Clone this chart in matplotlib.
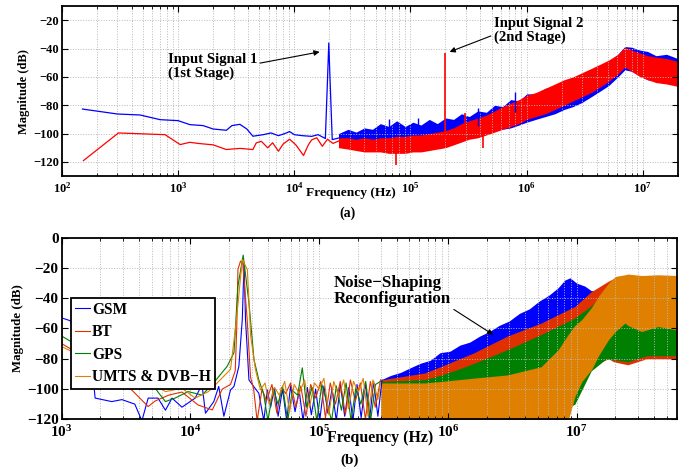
import matplotlib
matplotlib.use("Agg")
import matplotlib.pyplot as plt
from matplotlib.ticker import LogLocator, LogFormatterMathtext, MultipleLocator, NullFormatter

# ---------------- data ----------------
# (a) first/second stage spectra, low-frequency part as lines
a_blue_f = [150, 300, 470, 700, 1000, 1260, 1640, 2000, 2600, 2900, 3400, 3900, 4400,
            5400, 6300, 7300, 8300, 9100, 10000, 11700, 14100, 16000, 18500, 19300,
            19800, 20300, 21200, 24500]
a_blue_db = [-82.7, -86.2, -86.9, -90.2, -90.9, -93.7, -94.4, -96.8, -97.7, -94.4, -93.5,
             -96.8, -101.9, -100.8, -99.6, -101.5, -100, -98.6, -100.8, -101.5, -102,
             -100.8, -103.5, -62, -36, -62, -104.3, -103]
a_red_f = [153, 306, 771, 1040, 1260, 1490, 2000, 2600, 3400, 4400, 4700, 5200, 5900,
           6500, 7300, 8000, 9100, 10300, 12000, 13200, 14100, 15600, 17400, 19300,
           21500, 24500]
a_red_db = [-119.1, -99.6, -100.8, -107.8, -106.2, -107, -108, -111.3, -110.5, -111.3,
            -106.6, -105.5, -110.1, -106.5, -112.5, -107.5, -104, -108, -115.5, -108,
            -104.5, -103, -109, -104, -107, -105]

# noise floor above ~25 kHz, read as upper/lower envelopes
a_band_f = [2.4e4, 2.9e4, 3.4e4, 4e4, 4.7e4, 5.5e4, 6.5e4, 7.6e4, 9e4, 1.05e5, 1.23e5,
            1.45e5, 1.7e5, 2e5, 2.35e5, 2.75e5, 3.2e5, 3.8e5, 4.5e5, 5.3e5, 6.2e5, 7.3e5,
            8.6e5, 1e6, 1.2e6, 1.45e6, 1.75e6, 2.1e6, 2.5e6, 3e6, 3.6e6, 4.3e6, 5.1e6,
            6.1e6, 7e6, 8e6, 9.4e6, 1.1e7, 1.3e7, 1.6e7, 2e7]
a_blue_hi = [-100, -97, -99, -96, -97, -93, -95, -91, -95, -92, -94, -90, -93, -89, -90,
             -86, -88, -84, -85, -80, -81, -76, -77, -72, -72, -68, -67, -63, -62, -58, -56,
             -52, -49, -44, -38.5, -39, -41, -42, -45, -44, -47]
a_blue_lo = [-105, -106, -106, -107, -107, -108, -108, -109, -109, -109, -108, -108, -107,
             -106, -105, -103, -102, -100, -99, -98, -97, -96, -94, -92, -90, -88, -86, -83,
             -81, -78, -74, -70, -66, -60, -55, -56, -59, -62, -63, -64, -66]
a_red_hi = [-103, -103, -104, -103, -104, -103, -103, -102, -102, -101, -101, -100, -99,
            -98, -96, -93, -91, -89, -87, -84, -81, -78.5, -76, -73, -71, -68, -65, -62,
            -60, -57, -54, -51, -48, -44, -39, -41, -43, -45, -46, -47, -49]
a_red_lo = [-110, -111, -112, -113, -113, -113, -114, -114, -114, -113, -113, -112, -111,
            -110, -108, -106, -104, -103, -101, -99, -97, -95, -93, -90, -88, -86, -83, -80,
            -77, -74, -71, -67, -63, -58, -53, -56, -59.7, -62, -64, -65, -66.7]

a_blue_spk_f = [6.5e4, 1.17e5, 3.8e5, 7.9e5]
a_blue_spk_lo = [-100, -100, -95, -85]
a_blue_spk_hi = [-90, -89, -82, -71]
a_red_spk_f = [7.5e4, 2e5, 2.92e5, 4.2e5]
a_red_spk_lo = [-122, -104, -96, -110]
a_red_spk_hi = [-108, -43, -85.5, -98]

# (b) reconfigurable noise shaping
gsm_f = [1000, 1160, 1400, 1710, 1820, 2450, 2940, 3700, 4200, 4700, 5600, 6400, 7200,
         8600, 10900, 12300, 13100, 15200, 16600, 18200, 20500, 21800, 23800, 25300,
         26100, 26800, 28500, 31000, 34000, 37200, 39600,
         42e3, 45e3, 48e3, 52e3, 56e3, 60e3, 65e3, 70e3, 75e3, 81e3, 87e3, 94e3, 101e3,
         109e3, 117e3, 126e3, 136e3, 146e3, 158e3, 170e3, 183e3, 197e3, 212e3, 229e3,
         246e3, 265e3, 286e3, 308e3]
gsm_db = [-53, -54.8, -68, -83, -106, -108.3, -107, -110, -121, -106, -106, -114, -106,
          -112, -106, -97, -116, -108.3, -98.3, -118, -100.6, -98.3, -85, -54, -16.6, -54,
          -94, -98.3, -102.8, -121, -100.6,
          -112, -99, -118, -100, -121, -98, -115, -101, -121, -99, -117, -100, -121, -98,
          -116, -100, -121, -97, -118, -99, -121, -97, -119, -96, -121, -95, -118, -94]
bt_f = [1000, 2000, 3000, 3500, 4700, 5300, 6800, 8600, 11500, 14800, 17700, 20500,
        22300, 22900, 23400, 24500, 25500, 26800, 27600, 29300, 31000,
        33e3, 36e3, 39e3, 43e3, 47e3, 51e3, 55e3, 60e3, 66e3, 72e3, 79e3, 86e3, 94e3,
        103e3, 112e3, 122e3, 134e3, 146e3, 160e3, 175e3, 191e3, 209e3, 229e3, 250e3,
        273e3, 300e3]
bt_db = [-70, -85, -95, -100.6, -111.6, -108, -104, -102, -110.6, -113.8, -100, -97, -88,
         -60, -21, -15.5, -17, -40, -54, -92, -100,
         -121, -100, -108, -97, -116, -99, -103, -96, -112, -98, -118, -97, -106, -95,
         -119, -96, -110, -95, -117, -94, -108, -96, -120, -95, -112, -94]
gps_f = [1000, 2500, 4500, 5300, 5600, 6400, 7600, 9600, 12300, 14800, 19300, 21800,
         23400, 25700, 28500, 31200, 34000,
         37e3, 40e3, 44e3, 48e3, 52e3, 57e3, 62e3, 68e3, 74e3, 80e3, 88e3, 96e3, 105e3,
         114e3, 125e3, 136e3, 149e3, 162e3, 177e3, 193e3, 211e3, 230e3, 251e3, 274e3,
         300e3]
gps_db = [-65, -85, -95, -99, -102, -108.3, -106, -101.7, -104, -97, -85, -76, -32, -11.5,
          -43, -80.6, -94,
          -103, -121, -100, -110, -98, -121, -101, -104, -86, -112, -99, -121, -97, -108,
          -121, -98, -114, -96, -121, -99, -110, -95, -121, -97, -95]
umts_f = [1000, 2500, 4500, 5300, 6400, 8600, 10900, 13800, 15600, 20500, 22800, 25300,
          27700, 29400, 32000, 35000,
          38e3, 41e3, 45e3, 49e3, 54e3, 59e3, 64e3, 70e3, 77e3, 84e3, 92e3, 100e3, 109e3,
          119e3, 130e3, 142e3, 155e3, 169e3, 185e3, 202e3, 220e3, 240e3, 262e3, 286e3,
          300e3]
umts_db = [-72, -88, -95, -97.3, -101.7, -99.5, -106, -101.7, -97.3, -87, -54, -14.4, -21,
           -65, -87, -100.6,
           -96, -110, -99, -104, -95, -115, -97, -103, -94, -112, -96, -100, -93, -117, -95,
           -105, -94, -113, -95, -102, -93, -118, -94, -107, -96]

gsm_band_f = [3e5, 3.6e5, 4.3e5, 5.1e5, 6.1e5, 7.3e5, 8.7e5, 1.04e6, 1.24e6, 1.48e6,
              1.77e6, 2.1e6, 2.5e6, 3e6, 3.6e6, 4.3e6, 5.1e6, 6.1e6, 7.2e6, 8.1e6, 8.9e6,
              1e7, 1.16e7, 1.3e7, 1.5e7, 1.8e7]
gsm_band_hi = [-94, -91, -89, -86, -83, -81, -76, -75, -71, -69, -65, -62, -58, -55, -50,
               -47, -42, -38, -33, -28, -26.5, -30, -32, -35, -35, -35]
gsm_band_lo = [-121, -121, -121, -121, -121, -121, -121, -121, -121, -121, -121, -121,
               -121, -121, -121, -121, -121, -121, -110, -100, -90, -84, -80, -75, -78, -80]
bt_band_f = [3e5, 6.6e5, 8.9e5, 1.6e6, 2.9e6, 5.3e6, 9.7e6, 1.3e7, 1.77e7, 1.94e7, 2.5e7,
             3.5e7, 6e7]
bt_band_hi = [-94, -89.4, -85, -76, -65, -56.4, -45.4, -35.7, -28.7, -27, -27, -27, -27]
bt_band_lo = [-121, -121, -121, -121, -121, -121, -100, -85, -80, -82, -84, -80, -80]
gps_band_f = [3e5, 6.6e5, 8.9e5, 1.2e6, 1.6e6, 2.9e6, 5.3e6, 9.7e6, 1.3e7, 1.7e7, 2.5e7,
              3.5e7, 6e7]
gps_band_hi = [-95, -93.8, -90.7, -87, -83, -74, -64, -53, -45, -35, -30, -30, -30]
gps_band_lo = [-121, -121, -121, -121, -121, -121, -121, -110, -88, -80, -82, -78, -78]
umts_band_f = [3e5, 6.6e5, 8.9e5, 1.6e6, 2.9e6, 5.3e6, 7.2e6, 8.6e6, 9.7e6, 1.1e7, 1.31e7,
               1.48e7, 1.77e7, 2e7, 2.38e7, 2.5e7, 3.2e7, 4.3e7, 6e7]
umts_band_hi = [-96, -96, -95, -92.8, -90.7, -85.3, -74, -64, -58, -54, -46, -38.7, -30,
                -25.6, -24.5, -24, -25, -24.5, -25]
umts_band_lo = [-121, -121, -121, -121, -121, -121, -121, -121, -105, -95, -87, -78, -67.4,
                -62, -56.4, -58, -62, -58.7, -61]

# ---------------- style ----------------
plt.rcParams['font.family'] = 'serif'
plt.rcParams['font.serif'] = ['Liberation Serif', 'DejaVu Serif']
plt.rcParams['font.weight'] = 'bold'
plt.rcParams['font.size'] = 9
plt.rcParams['mathtext.fontset'] = 'custom'
plt.rcParams['mathtext.rm'] = 'Liberation Serif:bold'
plt.rcParams['mathtext.bf'] = 'Liberation Serif:bold'
plt.rcParams['mathtext.default'] = 'rm'

BLUE = '#0000ff'
RED = '#ff0000'
BT_RED = '#e03000'
GREEN = '#008000'
ORANGE = '#e08000'


def style_axes(ax, xmin, xmax, ymin, ymax, tsize, ysize):
    ax.set_xscale('log')
    ax.set_xlim(xmin, xmax)
    ax.set_ylim(ymin, ymax)
    ax.xaxis.set_major_locator(LogLocator(base=10, numticks=20))
    ax.xaxis.set_minor_locator(LogLocator(base=10, subs=range(2, 10), numticks=20))
    ax.xaxis.set_major_formatter(LogFormatterMathtext())
    ax.xaxis.set_minor_formatter(NullFormatter())
    ax.yaxis.set_major_locator(MultipleLocator(20))
    ax.grid(True, which='major', color='#b8b8b8', linestyle=':', linewidth=0.7)
    ax.grid(True, which='minor', axis='x', color='#b8b8b8', linestyle=':', linewidth=0.7)
    ax.tick_params(which='both', direction='in', top=True, right=True, labelsize=tsize)
    ax.tick_params(which='major', length=4, width=0.8)
    ax.tick_params(which='minor', length=2, width=0.6)
    ax.tick_params(axis='y', pad=2.2)
    for s in ax.spines.values():
        s.set_linewidth(1.3)
    ax.set_ylabel('Magnitude (dB)', fontsize=ysize, fontweight='bold', labelpad=2)


fig = plt.figure(figsize=(6.86, 4.75), dpi=100)
ax1 = fig.add_axes([0.0904, 0.6295, 0.8976, 0.3575])
ax2 = fig.add_axes([0.0899, 0.1173, 0.8966, 0.3823])

# ---- (a)
style_axes(ax1, 1e2, 2e7, -130, -10, 9, 9)
ax1.plot(a_blue_f, a_blue_db, color=BLUE, lw=0.9)
ax1.fill_between(a_band_f, a_blue_lo, a_blue_hi, color=BLUE, lw=0)
ax1.vlines(a_blue_spk_f, a_blue_spk_lo, a_blue_spk_hi, color=BLUE, lw=1)
ax1.plot(a_red_f, a_red_db, color=RED, lw=0.9)
ax1.fill_between(a_band_f, a_red_lo, a_red_hi, color=RED, lw=0)
ax1.vlines(a_red_spk_f, a_red_spk_lo, a_red_spk_hi, color=RED, lw=1.2)

ax1.annotate('Input Signal 1\n(1st Stage)', xy=(1.65e4, -42.3), xytext=(815, -52.9),
             fontsize=10.6, fontweight='bold', ha='left', va='center', linespacing=1.05,
             arrowprops=dict(arrowstyle='-|>', color='black', lw=0.8, mutation_scale=8,
                             shrinkA=0, shrinkB=0, relpos=(1.0, 0.62)))
ax1.annotate('Input Signal 2\n(2nd Stage)', xy=(2.17e5, -42.3), xytext=(5.2e5, -27.2),
             fontsize=10.6, fontweight='bold', ha='left', va='center', linespacing=1.05,
             arrowprops=dict(arrowstyle='-|>', color='black', lw=0.8, mutation_scale=8,
                             shrinkA=0, shrinkB=0, relpos=(-0.03, 0.3)))
ax1.set_xlabel('Frequency (Hz)', fontsize=9.6, fontweight='bold')
ax1.xaxis.set_label_coords(0.469, -0.062)

# ---- (b)
style_axes(ax2, 1e3, 6e7, -120, 0, 11, 9.3)
l1, = ax2.plot(gsm_f, gsm_db, color=BLUE, lw=0.8, label='GSM')
ax2.fill_between(gsm_band_f, gsm_band_lo, gsm_band_hi, color=BLUE, lw=0)
l2, = ax2.plot(bt_f, bt_db, color=BT_RED, lw=0.8, label='BT')
ax2.fill_between(bt_band_f, bt_band_lo, bt_band_hi, color=BT_RED, lw=0)
l3, = ax2.plot(gps_f, gps_db, color=GREEN, lw=0.8, label='GPS')
ax2.fill_between(gps_band_f, gps_band_lo, gps_band_hi, color=GREEN, lw=0)
l4, = ax2.plot(umts_f, umts_db, color=ORANGE, lw=0.8, label='UMTS & DVB\u2212H')
ax2.fill_between(umts_band_f, umts_band_lo, umts_band_hi, color=ORANGE, lw=0)

leg = ax2.legend(handles=[l1, l2, l3, l4], loc='upper left', bbox_to_anchor=(0.015, 0.668),
                 fontsize=11.2, frameon=True, fancybox=False, framealpha=1, edgecolor='black',
                 handlelength=1.0, handletextpad=0.1, labelspacing=0.42, borderpad=0.25,
                 borderaxespad=0)
leg.get_frame().set_linewidth(1.3)

ax2.annotate('Noise\u2212Shaping\nReconfiguration', xy=(2.25e6, -64.1), xytext=(1.3e5, -35.3),
             fontsize=12.2, fontweight='bold', ha='left', va='center', linespacing=1.0,
             arrowprops=dict(arrowstyle='-|>', color='black', lw=0.8, mutation_scale=8,
                             shrinkA=0, shrinkB=0, relpos=(0.95, 0.1)))
ax2.set_xlabel('Frequency (Hz)', fontsize=11.4, fontweight='bold')
ax2.xaxis.set_label_coords(0.518, -0.058)

fig.text(0.507, 1 - 213 / 475, '(a)', ha='center', va='center', fontsize=10, fontweight='bold')
fig.text(0.509, 1 - 460 / 475, '(b)', ha='center', va='center', fontsize=11, fontweight='bold')

fig.savefig('out.png', dpi=100)
